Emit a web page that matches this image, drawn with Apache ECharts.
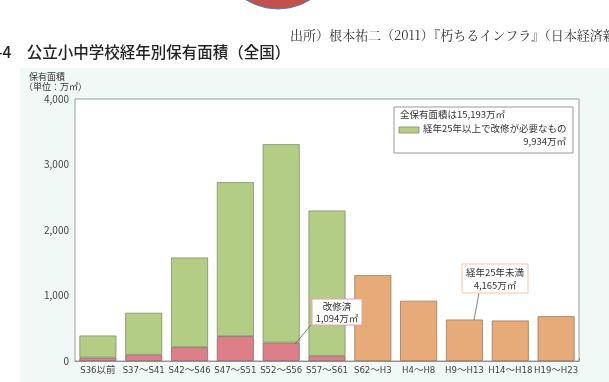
<!DOCTYPE html>
<html><head><meta charset="utf-8">
<script src="https://cdn.jsdelivr.net/npm/echarts@6/dist/echarts.min.js"></script>
<style>html,body{margin:0;padding:0;background:#fff}#c{width:609px;height:382px}</style>
</head><body><div id="c"></div>
<script>
const categories = ['S36以前','S37～S41','S42～S46','S47～S51','S52～S56','S57～S61','S62～H3','H4～H8','H9～H13','H14～H18','H19～H23'];
const renovated = [53, 95, 211, 379, 282, 79, null, null, null, null, null];
const needRenovation = [336, 641, 1369, 2351, 3028, 2219, null, null, null, null, null];
const under25 = [null, null, null, null, null, null, 1310, 920, 633, 618, 684];
const yTicks = [0, 1000, 2000, 3000, 4000];

const chart = echarts.init(document.getElementById('c'));
const jp = '"Noto Sans CJK JP", "Noto Sans", sans-serif';
const serif = '"Noto Serif CJK JP", "Noto Sans CJK JP", serif';
chart.setOption({
  animation: false,
  textStyle: { fontFamily: jp },
  grid: { left: 75, right: 30, top: 99, bottom: 21, show: true, borderColor: '#9a9a9a', borderWidth: 1, backgroundColor: '#fff', z: 1 },
  xAxis: {
    type: 'category', data: categories,
    axisLine: { lineStyle: { color: '#888' } },
    axisTick: { show: true, inside: true, length: 3, alignWithLabel: false, lineStyle: { color: '#888' } },
    axisLabel: { color: '#444', fontSize: 9.5, margin: 5, interval: 0, fontFamily: '"Liberation Sans Narrow", "DejaVu Sans Condensed", "Noto Sans CJK JP", sans-serif' }
  },
  yAxis: {
    type: 'value', min: yTicks[0], max: yTicks[yTicks.length - 1], interval: 1000,
    axisLine: { show: true, lineStyle: { color: '#888' } },
    axisTick: { show: false },
    axisLabel: { color: '#444', fontSize: 10, margin: 6, formatter: v => v.toLocaleString('en-US') },
    splitLine: { show: true, lineStyle: { color: '#b8b8b8', type: [2, 2], width: 1 } }
  },
  series: [
    { type: 'bar', stack: 'a', data: renovated, barWidth: 37, itemStyle: { color: '#dc7f88', borderColor: '#8a6a6a', borderWidth: 0.8 }, z: 3 },
    { type: 'bar', stack: 'a', data: needRenovation, barWidth: 37, itemStyle: { color: '#b4cd85', borderColor: '#7f8f6a', borderWidth: 0.8 }, z: 3 },
    { type: 'bar', stack: 'a', data: under25, barWidth: 37, itemStyle: { color: '#e7aa79', borderColor: '#9a7a60', borderWidth: 0.8 }, z: 3 }
  ],
  graphic: [
    { type: 'rect', shape: { x: 20, y: 68, width: 600, height: 320 }, style: { fill: '#f1f9f6' }, z: -10, silent: true },
    { type: 'circle', shape: { cx: 278, cy: -52, r: 61 }, style: { fill: '#c2504c', stroke: '#4a7ec0', lineWidth: 1 }, z: 5 },
    { type: 'text', left: 290, top: 29, style: { text: '出所）根本祐二（2011）『朽ちるインフラ』（日本経済新聞出版社）', font: '13px ' + serif, fill: '#333' }, z: 5 },
    { type: 'text', left: -3, top: 44, style: { text: '-4　公立小中学校経年別保有面積（全国）', font: '500 15.5px ' + jp, fill: '#222' }, z: 5 },
    { type: 'text', left: 29, top: 72, style: { text: '保有面積', font: '9px ' + jp, fill: '#333' }, z: 5 },
    { type: 'text', left: 24, top: 82, style: { text: '（単位：万㎡）', font: '9px ' + jp, fill: '#333' }, z: 5 },
    { type: 'rect', shape: { x: 394, y: 107, width: 179, height: 46 }, style: { fill: '#fff', stroke: '#999', lineWidth: 1 }, z: 10 },
    { type: 'text', left: 400, top: 110, style: { text: '全保有面積は15,193万㎡', font: '9.5px ' + jp, fill: '#333' }, z: 11 },
    { type: 'rect', shape: { x: 399, y: 127, width: 20, height: 6 }, style: { fill: '#b4cd85', stroke: '#7f8f6a', lineWidth: 0.8 }, z: 11 },
    { type: 'text', left: 423, top: 124, style: { text: '経年25年以上で改修が必要なもの', font: '9.5px ' + jp, fill: '#333' }, z: 11 },
    { type: 'text', right: 43, top: 137, style: { text: '9,934万㎡', font: '9.5px ' + jp, fill: '#333' }, z: 11 },
    { type: 'line', shape: { x1: 479, y1: 293, x2: 474, y2: 320 }, style: { stroke: '#666', lineWidth: 0.8 }, z: 10 },
    { type: 'rect', shape: { x: 462, y: 264, width: 66, height: 29 }, style: { fill: '#fff', stroke: '#f0c8a8', lineWidth: 1 }, z: 10 },
    { type: 'text', x: 495, y: 272, style: { text: '経年25年未満', font: '9.5px ' + jp, fill: '#333', align: 'center', verticalAlign: 'middle' }, z: 11 },
    { type: 'text', x: 495, y: 285, style: { text: '4,165万㎡', font: '9.5px ' + jp, fill: '#333', align: 'center', verticalAlign: 'middle' }, z: 11 },
    { type: 'line', shape: { x1: 311, y1: 325, x2: 295, y2: 344 }, style: { stroke: '#666', lineWidth: 0.8 }, z: 10 },
    { type: 'rect', shape: { x: 312, y: 299, width: 50, height: 26 }, style: { fill: '#fff', stroke: '#e8a0a8', lineWidth: 1 }, z: 10 },
    { type: 'text', x: 337, y: 306, style: { text: '改修済', font: '9.5px ' + jp, fill: '#333', align: 'center', verticalAlign: 'middle' }, z: 11 },
    { type: 'text', x: 337, y: 318, style: { text: '1,094万㎡', font: '9.5px ' + jp, fill: '#333', align: 'center', verticalAlign: 'middle' }, z: 11 }
  ]
});
</script></body></html>
